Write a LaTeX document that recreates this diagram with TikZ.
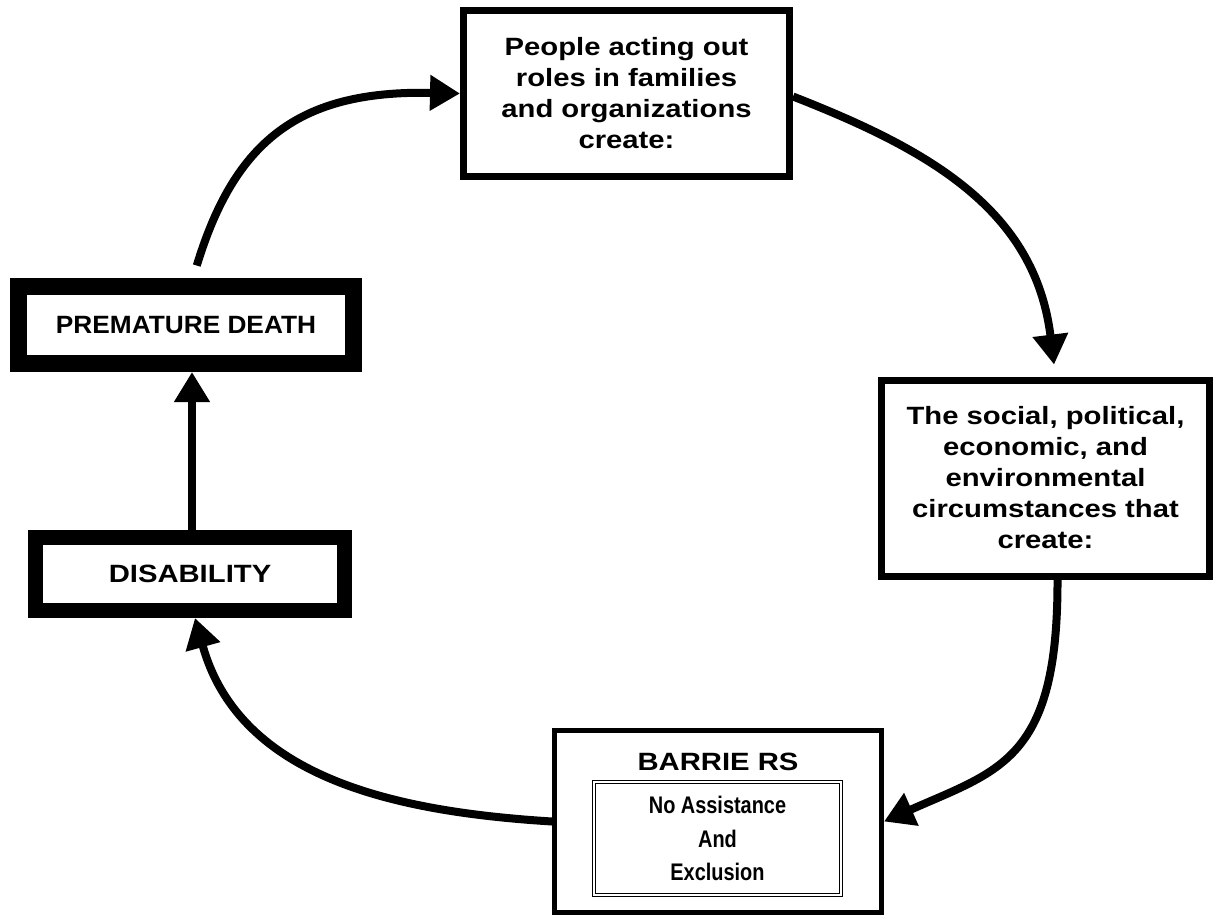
\documentclass[tikz,border=0pt]{standalone}
\usepackage{fontspec}
\setmainfont{Liberation Sans}[FakeStretch=1.17]
\newfontfamily\widelabel{Liberation Sans}[FakeStretch=1.05]
\newfontfamily\narrowlabel{Liberation Sans}[FakeStretch=0.83]
\usetikzlibrary{arrows.meta}

\begin{document}
\begin{tikzpicture}[x=1pt,y=-1pt,
  box/.style={draw=black, fill=white, inner sep=0pt, align=center,
    font=\fontsize{25}{31}\selectfont\bfseries},
  flow/.style={line width=8pt, -{Triangle[length=30pt,width=34pt]}},
]
\useasboundingbox (0,0) rectangle (1217,921);

% boxes of the cycle
\node[box, line width=7pt, minimum width=326pt, minimum height=166pt]
  (people) at (626.5,93.5) {People acting out\\roles in families\\and organizations\\create:};
\node[box, line width=7pt, minimum width=328pt, minimum height=196pt]
  (circ) at (1045.5,478) {The social, political,\\economic, and\\environmental\\circumstances that\\create:};
\node[box, line width=5pt, minimum width=327pt, minimum height=182pt]
  (bar) at (718,821.5) {};
\node[inner sep=0pt, font=\fontsize{25}{31}\selectfont\bfseries]
  (bartitle) at (718,762) {BARRIE RS};
\node[draw, double, line width=1pt, double distance=2.5pt, inner sep=0pt,
  minimum width=247pt, minimum height=113pt, align=center,
  font=\narrowlabel\fontsize{24}{33.5}\selectfont\bfseries]
  (barinner) at (717.5,838.5) {No Assistance\\And\\Exclusion};
\node[box, line width=15pt, minimum width=309pt, minimum height=73pt]
  (dis) at (190,574) {DISABILITY};
\node[box, line width=17pt, minimum width=335pt, minimum height=77pt,
  font=\widelabel\fontsize{25}{31}\selectfont\bfseries]
  (pd) at (186,325) {PREMATURE DEATH};

% connectors
\draw[flow, shorten <=13pt] ([xshift=7pt]pd.north)
  .. controls (235,140) and (300,90) .. (people.west);
\draw[flow, shorten >=12pt] ([yshift=-3pt]people.east)
  .. controls (930,150) and (1035,210) .. ([xshift=10pt]circ.north);
\draw[flow] ([xshift=12pt]circ.south)
  .. controls (1058,760) and (1000,770) .. (bar.east);
\draw[flow] (bar.west)
  .. controls (400,812) and (240,780) .. ([xshift=5pt]dis.south);
\draw[flow] ([xshift=2pt]dis.north) -- ([xshift=6pt]pd.south);
\end{tikzpicture}
\end{document}
